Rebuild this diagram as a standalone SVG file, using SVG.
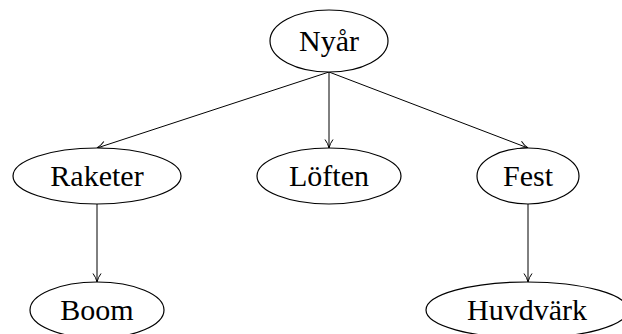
<svg xmlns="http://www.w3.org/2000/svg" width="622" height="334" viewBox="0 0 622 334">
<defs>
<style>
.n ellipse{fill:#fff;stroke:#000;stroke-width:1.2}
.n text{font-family:"Liberation Serif","DejaVu Serif",serif;font-size:30px;text-anchor:middle;fill:#000}
.e line{stroke:#000;stroke-width:1}
</style>
<marker id="a" viewBox="0 0 10 10" refX="9.5" refY="5" markerWidth="10" markerHeight="10" markerUnits="userSpaceOnUse" orient="auto">
<path d="M1,1 Q5,4 9.5,5 Q5,6 1,9" fill="none" stroke="#000" stroke-width="1"/>
</marker>
</defs>
<rect width="622" height="334" fill="#fff"/>
<g class="e">
<line x1="329" y1="72" x2="97" y2="148" marker-end="url(#a)"/>
<line x1="329" y1="72" x2="329" y2="148" marker-end="url(#a)"/>
<line x1="329" y1="72" x2="528" y2="148" marker-end="url(#a)"/>
<line x1="97" y1="204" x2="97" y2="282" marker-end="url(#a)"/>
<line x1="528" y1="204" x2="528" y2="282" marker-end="url(#a)"/>
</g>
<g id="nyar" class="n"><ellipse cx="329" cy="41" rx="59" ry="31"/><text x="329" y="51">Nyår</text></g>
<g id="raketer" class="n"><ellipse cx="97" cy="176" rx="84" ry="28"/><text x="97" y="186">Raketer</text></g>
<g id="loften" class="n"><ellipse cx="329" cy="176" rx="72" ry="28"/><text x="329" y="186">Löften</text></g>
<g id="fest" class="n"><ellipse cx="528" cy="176" rx="51" ry="28"/><text x="528" y="186">Fest</text></g>
<g id="boom" class="n"><ellipse cx="97" cy="310" rx="67" ry="28"/><text x="97" y="320">Boom</text></g>
<g id="huvdvark" class="n"><ellipse cx="527" cy="310" rx="101" ry="28"/><text x="527" y="320">Huvdvärk</text></g>
</svg>
